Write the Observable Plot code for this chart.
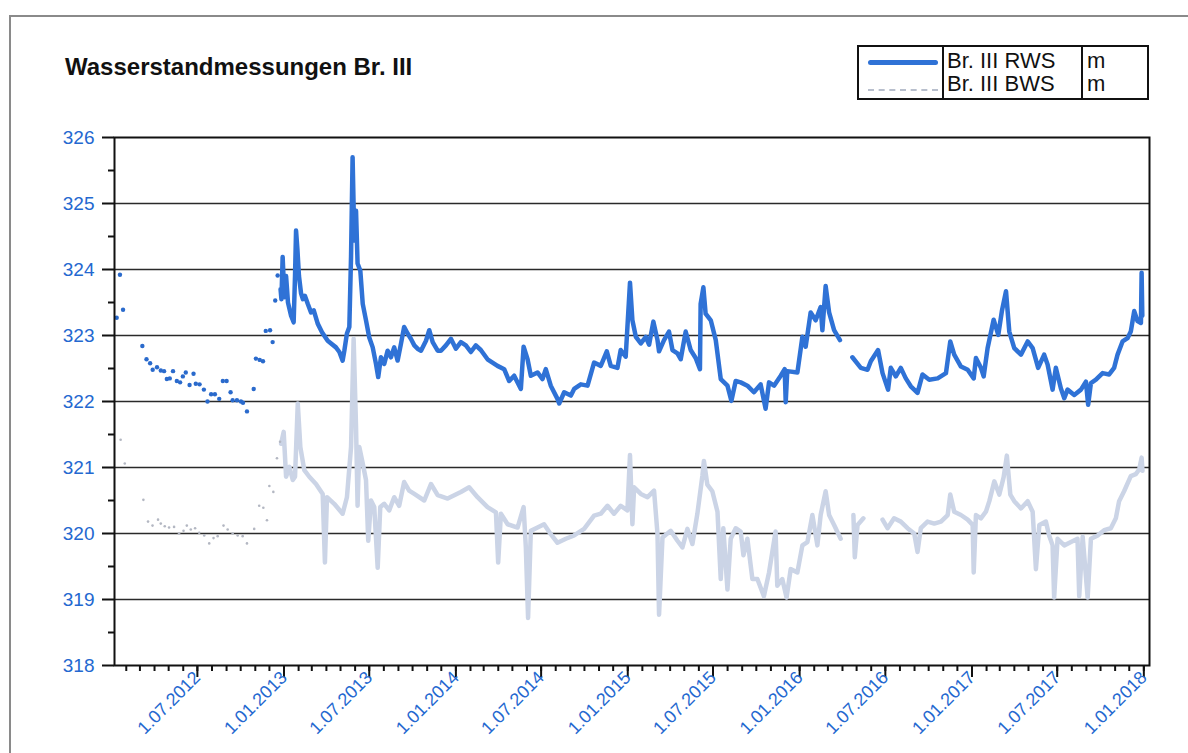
<!DOCTYPE html>
<html><head><meta charset="utf-8">
<script src="https://cdn.jsdelivr.net/npm/d3@7"></script>
<script src="https://cdn.jsdelivr.net/npm/@observablehq/plot@0.6"></script>
<style>
body{margin:0;background:#fff;font-family:"Liberation Sans",Arial,sans-serif;}
#wrap{position:relative;width:1188px;height:753px;overflow:hidden;background:#fff;}
#border{position:absolute;left:9px;top:15px;width:1300px;height:900px;border-left:2px solid #8a8a8a;border-top:2px solid #8a8a8a;}
#chart{position:absolute;left:0;top:0;}
#title{position:absolute;left:65px;top:53px;font-size:24px;font-weight:bold;color:#111;white-space:nowrap;}
#legend{position:absolute;left:857px;top:45px;width:288px;height:51px;border:2px solid #111;}
.vd{position:absolute;top:0;height:51px;border-left:2px solid #111;}
.lt{position:absolute;font-size:22px;line-height:23px;color:#111;white-space:nowrap;}
.ls{position:absolute;left:9px;width:70px;}
</style></head>
<body><div id="wrap">
<div id="border"></div>
<div id="chart"></div>
<div id="title">Wasserstandmessungen Br. III</div>
<div id="legend">
  <div class="ls" style="top:13px;height:5px;background:#2f72d6;border-radius:3px;"></div>
  <div class="ls" style="top:42px;height:0;border-top:2px dashed #b8bfcd;"></div>
  <div class="vd" style="left:83px"></div>
  <div class="vd" style="left:222px"></div>
  <div class="lt" style="left:88px;top:2px">Br. III RWS</div>
  <div class="lt" style="left:88px;top:25px">Br. III BWS</div>
  <div class="lt" style="left:228px;top:2px">m</div>
  <div class="lt" style="left:228px;top:25px">m</div>
</div>
</div>
<script>
// ---- data (time as decimal year, level in m) ----
const rwsDotT = [2012.029,2012.048,2012.066,2012.178,2012.202,2012.223,2012.238,2012.263,2012.285,2012.304,2012.320,2012.337,2012.356,2012.378,2012.397,2012.413,2012.430,2012.452,2012.475,2012.488,2012.510,2012.535,2012.556,2012.577,2012.599,2012.624,2012.645,2012.667,2012.690,2012.702,2012.727,2012.750,2012.762,2012.785,2012.824,2012.837,2012.859,2012.878,2012.894,2012.919,2012.934,2012.949,2012.963];
const rwsDotV = [323.27,323.92,323.39,322.84,322.64,322.58,322.48,322.52,322.47,322.46,322.34,322.35,322.46,322.31,322.29,322.38,322.44,322.25,322.42,322.27,322.26,322.18,322.00,322.11,322.11,322.04,322.31,322.31,322.14,322.02,322.02,322.00,321.98,321.85,322.19,322.65,322.63,322.61,323.07,323.08,322.90,323.53,323.91];

const rwsT = [2012.980,2012.985,2012.992,2013.002,2013.012,2013.023,2013.041,2013.056,2013.064,2013.070,2013.078,2013.087,2013.099,2013.110,2013.122,2013.138,2013.157,2013.173,2013.196,2013.221,2013.254,2013.302,2013.322,2013.341,2013.351,2013.366,2013.380,2013.390,2013.399,2013.409,2013.419,2013.428,2013.444,2013.458,2013.477,2013.496,2013.516,2013.535,2013.548,2013.564,2013.583,2013.603,2013.622,2013.641,2013.661,2013.680,2013.699,2013.719,2013.738,2013.758,2013.777,2013.797,2013.826,2013.845,2013.865,2013.894,2013.913,2013.942,2013.971,2014.000,2014.029,2014.058,2014.087,2014.116,2014.145,2014.184,2014.242,2014.281,2014.310,2014.339,2014.378,2014.394,2014.417,2014.436,2014.475,2014.504,2014.523,2014.552,2014.591,2014.601,2014.630,2014.669,2014.688,2014.727,2014.766,2014.804,2014.843,2014.878,2014.901,2014.940,2014.959,2014.988,2015.013,2015.027,2015.047,2015.076,2015.105,2015.124,2015.149,2015.173,2015.182,2015.211,2015.240,2015.260,2015.289,2015.308,2015.337,2015.366,2015.395,2015.420,2015.424,2015.440,2015.453,2015.483,2015.512,2015.541,2015.580,2015.603,2015.628,2015.657,2015.696,2015.734,2015.773,2015.802,2015.822,2015.851,2015.890,2015.913,2015.919,2015.928,2015.987,2016.016,2016.035,2016.064,2016.093,2016.122,2016.132,2016.151,2016.171,2016.200,2016.234,2016.270,2016.306,2016.355,2016.394,2016.413,2016.455,2016.481,2016.513,2016.529,2016.558,2016.587,2016.616,2016.645,2016.684,2016.713,2016.752,2016.801,2016.849,2016.874,2016.897,2016.936,2016.975,2017.010,2017.023,2017.052,2017.068,2017.091,2017.126,2017.153,2017.174,2017.198,2017.217,2017.246,2017.285,2017.324,2017.353,2017.385,2017.420,2017.440,2017.469,2017.488,2017.517,2017.537,2017.556,2017.595,2017.634,2017.663,2017.676,2017.692,2017.721,2017.760,2017.798,2017.827,2017.847,2017.876,2017.905,2017.924,2017.944,2017.963,2017.983,2017.987,2017.991];
const rwsV = [323.70,323.55,324.19,323.58,323.90,323.50,323.30,323.20,323.90,324.59,324.30,323.90,323.64,323.55,323.60,323.48,323.35,323.38,323.18,323.05,322.92,322.82,322.75,322.62,322.77,323.03,323.13,324.20,325.70,324.44,324.89,324.09,323.98,323.48,323.23,322.97,322.82,322.57,322.37,322.67,322.57,322.77,322.67,322.82,322.62,322.87,323.13,323.03,322.95,322.85,322.80,322.77,322.92,323.08,322.90,322.77,322.77,322.85,322.95,322.80,322.90,322.85,322.75,322.85,322.78,322.64,322.54,322.49,322.31,322.39,322.19,322.83,322.64,322.39,322.44,322.34,322.49,322.24,322.04,321.97,322.14,322.09,322.19,322.26,322.24,322.59,322.54,322.76,322.54,322.51,322.78,322.68,323.80,323.23,322.98,322.88,322.98,322.86,323.21,322.93,322.76,322.93,323.06,322.78,322.73,322.64,323.06,322.78,322.66,322.49,323.48,323.73,323.33,323.23,322.93,322.34,322.24,322.01,322.31,322.29,322.24,322.14,322.26,321.89,322.29,322.24,322.39,322.49,321.99,322.46,322.44,322.98,322.83,323.35,323.23,323.43,323.08,323.75,323.35,323.08,322.93,NaN,322.67,322.51,322.48,322.61,322.78,322.43,322.18,322.51,322.38,322.51,322.35,322.23,322.13,322.41,322.33,322.35,322.43,322.91,322.71,322.53,322.48,322.35,322.66,322.51,322.38,322.81,323.24,323.01,323.37,323.67,323.06,322.81,322.71,322.91,322.81,322.51,322.71,322.56,322.18,322.51,322.20,322.05,322.18,322.10,322.18,322.30,321.95,322.28,322.33,322.43,322.41,322.51,322.71,322.91,322.96,323.06,323.37,323.22,323.19,323.95,323.30];

const bwsDotT = [2012.052,2012.076,2012.184,2012.211,2012.237,2012.269,2012.285,2012.308,2012.333,2012.362,2012.391,2012.417,2012.436,2012.459,2012.484,2012.508,2012.537,2012.566,2012.591,2012.615,2012.649,2012.673,2012.702,2012.731,2012.760,2012.785,2012.827,2012.856,2012.880,2012.901,2012.915,2012.938,2012.959,2012.977];
const bwsDotV = [321.42,321.06,320.51,320.18,320.12,320.21,320.15,320.11,320.09,320.10,320.00,320.04,320.12,320.06,320.08,320.01,319.97,319.85,319.93,319.96,320.12,320.06,320.00,319.97,319.96,319.85,320.07,320.42,320.39,320.20,320.72,320.63,321.14,321.39];

const bwsT = [2012.983,2012.998,2013.012,2013.031,2013.051,2013.064,2013.080,2013.095,2013.118,2013.147,2013.186,2013.225,2013.238,2013.250,2013.292,2013.341,2013.366,2013.390,2013.405,2013.419,2013.428,2013.438,2013.458,2013.477,2013.490,2013.506,2013.525,2013.545,2013.560,2013.583,2013.612,2013.641,2013.670,2013.699,2013.728,2013.758,2013.816,2013.855,2013.894,2013.952,2014.029,2014.077,2014.126,2014.184,2014.233,2014.246,2014.262,2014.301,2014.359,2014.394,2014.407,2014.420,2014.436,2014.475,2014.513,2014.552,2014.591,2014.640,2014.688,2014.746,2014.804,2014.843,2014.882,2014.920,2014.959,2014.998,2015.013,2015.027,2015.037,2015.076,2015.115,2015.153,2015.173,2015.182,2015.202,2015.250,2015.289,2015.318,2015.347,2015.376,2015.405,2015.434,2015.443,2015.463,2015.492,2015.522,2015.541,2015.556,2015.580,2015.599,2015.628,2015.657,2015.673,2015.696,2015.725,2015.754,2015.792,2015.822,2015.860,2015.870,2015.899,2015.924,2015.948,2015.987,2016.016,2016.045,2016.074,2016.103,2016.122,2016.151,2016.171,2016.200,2016.238,2016.275,2016.312,2016.320,2016.336,2016.370,2016.425,2016.481,2016.510,2016.548,2016.587,2016.626,2016.665,2016.684,2016.703,2016.742,2016.781,2016.820,2016.859,2016.874,2016.897,2016.936,2016.975,2017.004,2017.010,2017.023,2017.052,2017.081,2017.101,2017.130,2017.159,2017.184,2017.203,2017.223,2017.246,2017.285,2017.324,2017.353,2017.372,2017.392,2017.430,2017.449,2017.469,2017.478,2017.498,2017.537,2017.576,2017.614,2017.624,2017.644,2017.673,2017.692,2017.731,2017.769,2017.808,2017.837,2017.856,2017.885,2017.924,2017.953,2017.973,2017.987,2017.992];
const bwsV = [321.36,321.54,320.86,321.01,320.81,320.86,321.97,321.31,320.96,320.86,320.75,320.60,319.56,320.55,320.45,320.30,320.55,321.31,322.95,321.62,320.42,321.31,321.06,320.81,319.89,320.50,320.40,319.48,320.40,320.45,320.35,320.55,320.42,320.78,320.65,320.60,320.50,320.75,320.58,320.53,320.63,320.70,320.55,320.40,320.32,319.56,320.30,320.14,320.09,320.40,319.79,318.72,320.04,320.09,320.14,319.99,319.86,319.92,319.97,320.07,320.27,320.30,320.42,320.30,320.42,320.35,321.19,320.14,320.70,320.60,320.55,320.65,319.99,318.77,319.94,320.04,319.89,319.79,320.07,319.84,320.30,320.87,321.10,320.74,320.64,320.33,319.31,320.08,319.15,319.92,320.08,320.03,319.67,319.92,319.31,319.31,319.05,319.41,320.03,319.21,319.31,319.03,319.46,319.41,319.82,319.87,320.28,319.82,320.28,320.64,320.28,320.13,319.92,NaN,320.28,319.64,320.13,320.23,NaN,320.21,320.08,320.23,320.18,320.08,320.00,319.72,320.08,320.18,320.15,320.18,320.28,320.59,320.33,320.28,320.21,320.13,319.41,320.28,320.23,320.33,320.49,320.79,320.59,320.85,321.18,320.59,320.49,320.38,320.49,320.33,319.46,320.13,320.18,319.97,319.82,319.03,319.92,319.82,319.87,319.92,319.05,319.95,319.03,319.92,319.97,320.05,320.08,320.23,320.49,320.64,320.87,320.90,320.97,321.15,320.95];

const yMajor = [318,319,320,321,322,323,324,325,326];
const yMinor = [318.5,319.5,320.5,321.5,322.5,323.5,324.5,325.5];
const xMajor = ["2012-07-01","2013-01-01","2013-07-01","2014-01-01","2014-07-01","2015-01-01","2015-07-01","2016-01-01","2016-07-01","2017-01-01","2017-07-01","2018-01-01"];
const xDomain = ["2012-01-07","2018-01-13"];

// ---- helpers ----
function dec(t){const y=Math.floor(t);const a=Date.UTC(y,0,1),b=Date.UTC(y+1,0,1);return new Date(a+(t-y)*(b-a));}
const zip=(T,V)=>T.map((t,i)=>({date:dec(t),v:V[i]}));
const rwsDots=zip(rwsDotT,rwsDotV), rwsLine=zip(rwsT,rwsV), bwsDots=zip(bwsDotT,bwsDotV), bwsLine=zip(bwsT,bwsV);
const majors=xMajor.map(s=>new Date(s+"T00:00:00Z"));
const dom=xDomain.map(s=>new Date(s+"T00:00:00Z"));
const minors=d3.utcMonth.range(new Date("2012-02-01T00:00:00Z"),new Date("2018-01-02T00:00:00Z"));
const fmt=d3.utcFormat("%-d.%m.%Y");
const blue="#2468d0";

const chart=Plot.plot({
  width:1188,height:753,marginLeft:114,marginRight:39,marginTop:137,marginBottom:88,
  x:{type:"utc",domain:dom},
  y:{domain:[318,326]},
  style:{fontFamily:"'Liberation Sans', Arial, sans-serif",background:"transparent",overflow:"visible"},
  marks:[
    Plot.gridY(yMajor.slice(1,-1),{stroke:"#2a2a2a",strokeOpacity:1,strokeWidth:1.4}),
    Plot.line(bwsLine,{x:"date",y:"v",stroke:"#cbd4e6",strokeWidth:4.5,strokeLinejoin:"round"}),
    Plot.dot(bwsDots,{x:"date",y:"v",r:1.3,fill:"#b3b7c2"}),
    Plot.line(rwsLine,{x:"date",y:"v",stroke:"#2f72d6",strokeWidth:4.5,strokeLinejoin:"round"}),
    Plot.dot(rwsDots,{x:"date",y:"v",r:2.2,fill:"#2a6acc"}),
    Plot.frame({stroke:"#111",strokeWidth:2}),
    Plot.axisY(yMinor,{tickSize:6,fill:"none",stroke:"#111",strokeWidth:2,label:null}),
    Plot.axisY(yMajor,{tickSize:12,tickPadding:8,stroke:"#111",strokeWidth:2,fill:blue,fontSize:19,tickFormat:d=>String(d),label:null}),
    Plot.axisX(minors,{tickSize:6,fill:"none",stroke:"#111",strokeWidth:2,label:null}),
    Plot.axisX(majors,{tickSize:12,tickPadding:-3,tickRotate:-45,stroke:"#111",strokeWidth:2,fill:blue,fontSize:18,tickFormat:fmt,label:null})
  ]
});
document.getElementById("chart").appendChild(chart);
</script>
</body></html>
